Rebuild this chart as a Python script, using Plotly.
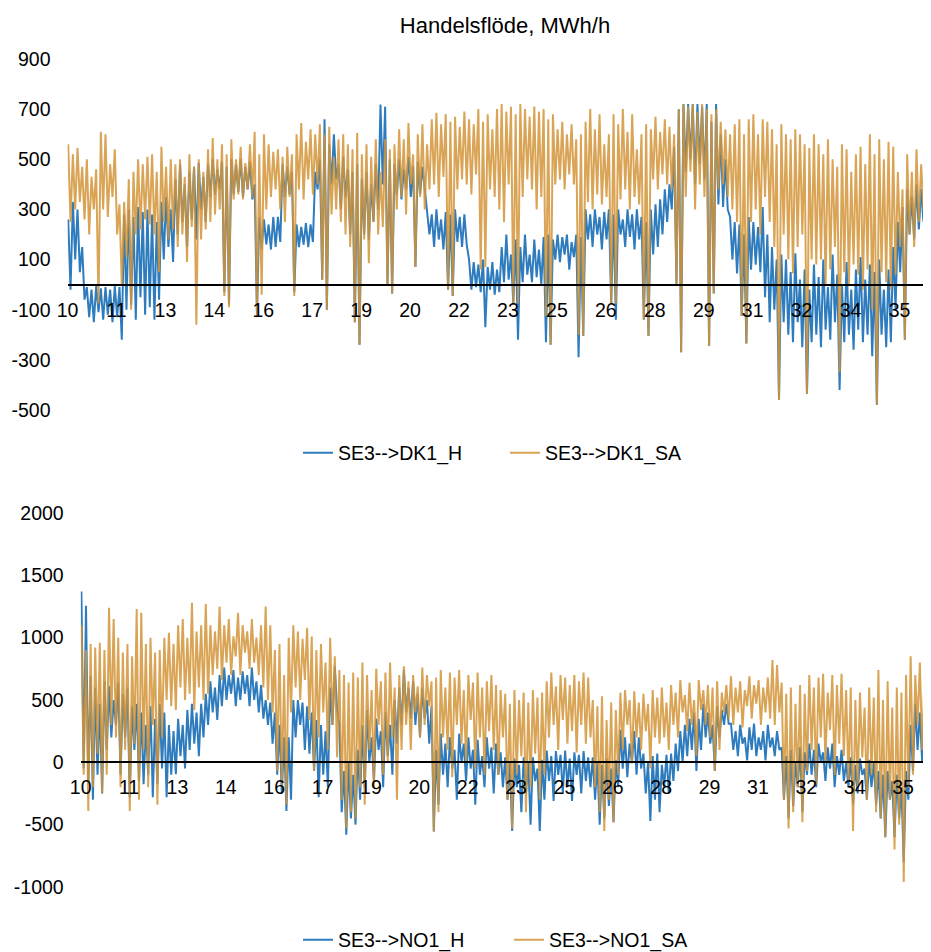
import plotly.graph_objects as go

# ---------------- data (daily high / low, MWh/h) ----------------
WEEK_LABELS = ['10', '11', '13', '14', '16', '17', '19', '20', '22', '23',
               '25', '26', '28', '29', '31', '32', '34', '35']
LABEL_STEP_DAYS = 10.5

TOP_TICKS = [-500, -300, -100, 100, 300, 500, 700, 900]
BOTTOM_TICKS = [-1000, -500, 0, 500, 1000, 1500, 2000]

DK1_SA_HIGH = [
    560, 520, 545, 470, 500, 430, 460, 610, 600, 480,
    540, 320, 330, 420, 450, 500, 480, 510, 520, 450,
    550, 470, 500, 480, 500, 430, 520, 470, 500, 450,
    540, 585, 500, 560, 520, 580, 500, 550, 485, 560,
    610, 520, 600, 560, 530, 540, 510, 550, 520, 600,
    645, 570, 620, 600, 640, 600, 630, 510, 580, 600,
    560, 540, 605, 520, 560, 510, 580, 450, 580, 540,
    560, 620, 580, 645, 520, 600, 640, 560, 660, 685,
    640, 680, 650, 670, 630, 690, 660, 640, 700, 650,
    680, 620, 700, 720, 690, 710, 680, 720, 700, 670,
    710, 690, 700, 660, 680, 620, 650, 600, 640, 580,
    600, 650, 700, 620, 680, 560, 600, 680, 640, 700,
    610, 680, 540, 600, 640, 620, 670, 610, 660, 630,
    600, 700, 720, 710, 720, 690, 720, 700, 680, 700,
    650, 620, 600, 640, 660, 600, 660, 680, 600, 660,
    650, 620, 560, 640, 600, 580, 620, 600, 560, 545,
    600, 560, 520, 580, 500, 470, 560, 540, 450, 520,
    550, 480, 600, 520, 580, 500, 570, 550, 450, 380,
    520, 450, 540, 480, 500, 540, 500]
DK1_SA_LOW = [
    250, 300, 330, 260, 200, 300, -75, 300, 270, 350,
    200, -5, 110, -100, 200, 220, 260, 240, 200, 50,
    250, 180, 220, 150, 200, 90, 230, -160, 180, 220,
    250, 280, 300, -45, -90, 340, 360, 340, 380, 350,
    -130, -40, 300, 350, 380, 300, 250, 350, -45, 380,
    340, 420, 360, 400, 20, -100, 280, 300, 250, 200,
    150, -150, -240, 180, 85, 250, 200, 230, 0, -35,
    300, 350, 280, 400, 70, 350, 300, 380, 400, 350,
    430, -20, -45, 380, 420, 400, 360, 440, 60, 70,
    380, 350, 300, 250, 400, -75, -75, 350, 420, 380,
    300, 350, -125, -240, 400, 420, 380, 440, 400, -200,
    -205, 330, 300, 360, 320, 350, -75, -75, 340, 380,
    300, 350, 320, -140, -205, 420, 380, 440, 400, 380,
    0, -270, 350, 450, 300, 400, 350, -245, -35, 380,
    400, 350, 300, 250, -125, -235, 250, 300, 200, 350,
    250, 150, -460, 200, 100, 45, 150, 200, -435, 100,
    80, 100, -5, 60, 150, -350, 50, 0, 80, 40,
    -20, 60, -100, -480, 50, 10, -20, 40, 150, -220,
    200, 150, 250, 300, 200, 280, 250]

DK1_H_HIGH = [
    260, 330, 300, 150, -10, -20, -5, -15, -10, -20,
    -5, -10, 280, 300, 270, 310, 290, 300, 280, 250,
    330, 350, 300, 420, 480, 400, 450, 470, 485, 430,
    480, 500, 460, 490, 470, 500, 480, 500, 470, 490,
    400, 270, 260, 240, 270, 270, 480, 470, 450, 240,
    230, 245, 240, 450, 500, 660, 560, 600, 480, 510,
    460, 450, 480, 420, 450, 400, 480, 718, 710, 500,
    480, 500, 460, 510, 470, 490, 470, 300, 280, 300,
    260, 290, 280, 300, 270, 280, 100, 90, 80, 100,
    70, 90, 60, 150, 200, 120, 180, 150, 200, 120,
    180, 140, 190, 200, 180, 200, 190, 200, 170, 200,
    190, 300, 280, 300, 270, 290, 300, 280, 300, 260,
    300, 280, 300, 270, 250, 300, 320, 340, 380, 400,
    550, 700, 720, 720, 720, 720, 710, 720, 650, 720,
    600, 500, 270, 250, 240, 200, 270, 250, 230, 310,
    200, 150, 100, 120, 100, 50, 125, 20, 60, -20,
    80, 30, 100, -10, 120, 40, 0, 90, -20, 60,
    110, 20, 80, 50, 100, -20, 60, 150, 250, 310,
    380, 350, 400, 380, 350, 400, 380]
DK1_H_LOW = [
    -20, 100, 50, -60, -130, -150, -110, -140, -120, -150,
    -130, -220, -100, -80, -140, -50, -120, -90, -140, -60,
    100, 150, 90, 200, 250, 150, 260, 180, 300, 250,
    350, 360, 380, -30, -80, 360, 370, 350, 380, 340,
    -120, 140, 160, 140, 150, 170, 350, 360, -30, 150,
    160, 150, 170, 380, 20, -100, 400, 420, 300, 350,
    200, -150, -240, 200, 180, 250, 300, 400, 0, -35,
    360, 340, 380, 350, 70, 360, 380, 200, 150, 180,
    140, -20, -45, 170, 150, 160, -20, -10, -30, -170,
    -20, -40, -30, 10, 20, -75, -220, 10, 40, 10,
    30, 0, -230, -240, 100, 90, 120, 60, 110, -290,
    -205, 180, 150, 200, 140, 180, -75, -140, 200, 150,
    190, 140, 180, -140, -205, 120, 150, 200, 250, 300,
    0, -270, 450, 500, 400, 480, 420, -245, -35, 320,
    310, 300, 100, 45, -125, -235, 60, 80, 50, -50,
    -150, -100, -460, -150, -200, -230, -150, -250, -435, -230,
    -200, -250, -180, -220, -150, -420, -230, -200, -260, -180,
    -230, -200, -285, -480, -200, -250, -230, -100, 50, -220,
    200, 180, 220, 250, 200, 260, 240]

NO1_SA_HIGH = [
    1100, 900, 950, 920, 960, 900, 1240, 1150, 1000, 880,
    950, 850, 1230, 1200, 950, 1000, 880, 900, 1000, 1040,
    950, 1100, 1150, 1000, 1280, 1050, 1100, 1270, 1100, 1050,
    1250, 1100, 1150, 1010, 1200, 1100, 1050, 1150, 1000, 1100,
    1250, 1100, 900, 950, 700, 1000, 1100, 1050, 990, 1080,
    1010, 900, 950, 800, 1000, 850, 740, 700, 640, 720,
    680, 800, 700, 580, 750, 650, 720, 800, 600, 700,
    770, 650, 700, 610, 760, 700, 650, 680, 740, 600,
    720, 680, 740, 580, 700, 640, 720, 600, 650, 700,
    620, 580, 550, 470, 580, 500, 560, 480, 580, 520,
    560, 650, 720, 610, 700, 680, 620, 700, 650, 720,
    680, 500, 450, 530, 340, 480, 420, 560, 580, 500,
    570, 480, 550, 470, 580, 520, 600, 480, 620, 560,
    660, 540, 640, 500, 660, 580, 620, 600, 650, 560,
    620, 690, 600, 650, 580, 690, 620, 660, 600, 680,
    820, 780, 640, 550, 600, 470, 620, 550, 700, 600,
    680, 710, 560, 700, 620, 710, 580, 600, 500, 560,
    440, 600, 520, 740, 500, 650, 440, 600, 560, 700,
    850, 700, 800, 690, 780, 720, 760]
NO1_SA_LOW = [
    -100, -390, -200, 70, -250, -100, 300, 200, -200, 100,
    -390, 150, -300, 100, -200, 300, -340, 200, 500, 450,
    420, 600, 500, 550, 420, 600, 500, 550, 700, 750,
    660, 800, 700, 850, 700, 880, 750, 800, 700, 600,
    500, 400, -70, -200, -340, 400, 600, 500, 660, 340,
    -70, 200, 400, 100, 300, 40, -300, -530, -400, -450,
    -200, -340, 100, -200, 300, -100, 0, 200, -300, 100,
    300, 100, 400, 200, 300, 450, -555, -400, 200, 100,
    -120, 300, 150, 0, 340, -50, 200, -100, 250, 100,
    -100, 200, -300, -530, -100, 50, -400, -200, 70, -300,
    -100, 200, 300, 100, 340, 150, 250, 80, 300, 150,
    200, -200, -400, -550, -300, -480, -100, 100, 300, -10,
    200, 100, 250, -50, 200, 150, 200, 100, 300, 200,
    400, 250, 300, 50, 420, 300, 200, -70, 100, 400,
    350, 300, 400, 280, 450, 350, 470, 300, 400, 350,
    300, 400, -300, -530, -400, -200, -480, -70, 100, -175,
    200, 0, 260, -100, 150, 50, -150, -550, -200, 40,
    -300, -100, -400, -450, -600, -300, -700, -500, -960, -200,
    -100, 300, 100, 420, -150, 200, 300]

NO1_H_HIGH = [
    1370, 1255, 690, 600, 470, 650, 610, 500, 640, 550,
    600, 450, 470, 400, 300, 450, 350, 470, 400, 300,
    250, 350, 300, 420, 470, 400, 470, 550, 650, 600,
    700, 760, 700, 740, 680, 730, 700, 760, 650, 620,
    500, 480, 400, 300, 200, 200, 500, 500, 480, 450,
    400, 340, 300, 250, 600, 770, 300, -70, 0, -100,
    100, 300, 420, 200, 350, 250, 400, 300, 500, 600,
    740, 600, 650, 550, 600, 500, 450, 100, 230, 150,
    200, 100, 230, 150, 200, 100, 180, 50, 200, 120,
    150, 80, 40, 0, 30, -20, 40, 0, 40, -50,
    20, 95, 50, 90, 60, 95, 30, 80, 60, 90,
    40, 40, 0, -20, 30, -50, 20, 260, 200, 150,
    250, 200, 70, 0, 50, 70, -20, 60, 70, 150,
    250, 300, 350, 400, 350, 470, 400, 300, 450, 420,
    470, 310, 250, 300, 200, 280, 310, 200, 250, 300,
    200, 250, 120, 50, 100, 0, 120, 80, 150, 100,
    150, 80, 120, 150, 50, 100, 0, 40, -20, 30,
    -50, 20, 0, -70, -100, -70, -150, -100, -200, -70,
    300, 470, 400, 450, 350, 420, 380]
NO1_H_LOW = [
    -50, -150, -300, -100, -250, 100, 200, 300, -100, 200,
    -280, 100, -150, -175, -100, -280, -175, -50, -280, -100,
    -95, 50, -50, 100, 150, 50, 200, 300, 400, 340,
    450, 500, 550, 450, 500, 550, 450, 500, 400, 350,
    300, 150, -100, -250, -390, -300, 200, 300, 100, 70,
    -70, -280, -100, -200, 300, 420, -400, -580, -450, -500,
    -300, -200, 0, -150, 100, -200, 50, -100, 150, 300,
    400, 350, 300, 200, 350, 150, -555, -340, -100, -200,
    -50, -300, 0, -150, -50, -340, -100, -200, -50, -250,
    -100, -200, -300, -550, -200, -400, -250, -500, -150, -550,
    -300, -150, -310, -100, -250, -200, -310, -100, -250, -150,
    -200, -300, -500, -450, -350, -480, -200, -50, -120, 0,
    -100, -50, -250, -470, -300, -400, -200, -250, -150, -70,
    0, 50, 100, -70, 100, 200, 150, -70, 200, 300,
    310, 100, 50, 150, 15, 100, 50, 100, 15, 120,
    50, 100, -300, -450, -350, -200, -400, -100, -100, -200,
    0, -150, -50, -200, -100, -150, -200, -340, -250, -100,
    -300, -200, -340, -450, -600, -300, -600, -450, -800, -300,
    -70, 100, 0, 200, -70, 100, 150]

# ---------------- helpers ----------------
# the page body adds an 8 px margin at top/left; reference pixel positions are
# converted to figure fractions with that offset
OFF = 8
W, H = 931 - OFF, 952 - OFF
BLUE = '#2E7CBE'
ORANGE = 'rgba(210,148,55,0.85)'
FONT = 'Liberation Sans, Arial, sans-serif'
FS = 19.5


def px_x(x):
    return (x - OFF) / W


def px_y(y):
    return 1 - (y - OFF) / H


def daily_path(hi, lo):
    n = min(len(hi), len(lo))
    xs, ys = [], []
    for d in range(n):
        xs += [d + 0.15, d + 0.65]
        ys += [hi[d], lo[d]]
    return xs, ys


label_pos = [i * LABEL_STEP_DAYS for i in range(len(WEEK_LABELS))]

TOP_X0, TOP_PPD = 67.5, 4.661
BOT_X0, BOT_PPD = 80.7, 4.607
RIGHT_EDGE = OFF + W

fig = go.Figure()
for (hi, lo, name, color, xa, ya, lg) in [
    (DK1_H_HIGH, DK1_H_LOW, 'SE3-->DK1_H', BLUE, 'x', 'y', 'legend'),
    (DK1_SA_HIGH, DK1_SA_LOW, 'SE3-->DK1_SA', ORANGE, 'x', 'y', 'legend'),
    (NO1_H_HIGH, NO1_H_LOW, 'SE3-->NO1_H', BLUE, 'x2', 'y2', 'legend2'),
    (NO1_SA_HIGH, NO1_SA_LOW, 'SE3-->NO1_SA', ORANGE, 'x2', 'y2', 'legend2'),
]:
    xs, ys = daily_path(hi, lo)
    fig.add_trace(go.Scatter(x=xs, y=ys, mode='lines', name=name,
                             line=dict(color=color, width=2),
                             xaxis=xa, yaxis=ya, legend=lg,
                             hoverinfo='skip'))

tick_font = dict(size=FS, color='black', family=FONT)
common_x = dict(anchor='free', showline=True, linecolor='black', linewidth=1.5,
                showgrid=False, zeroline=False, ticks='',
                tickvals=label_pos, ticktext=WEEK_LABELS,
                tickfont=tick_font, ticklabelstandoff=8, automargin=False)
common_y = dict(showgrid=False, zeroline=False, showline=False, ticks='',
                tickfont=tick_font, ticklabelstandoff=16, automargin=False)
legend_common = dict(orientation='h', xanchor='left', yanchor='middle',
                     entrywidthmode='pixels',
                     font=dict(size=FS, family=FONT, color='black'),
                     bgcolor='rgba(0,0,0,0)')

fig.update_layout(
    width=W, height=H,
    margin=dict(l=0, r=0, t=0, b=0, autoexpand=False),
    paper_bgcolor='white', plot_bgcolor='white',
    font=dict(family=FONT, size=FS, color='black'),
    title=dict(text='Handelsflöde, MWh/h', x=px_x(505), xanchor='center',
               y=px_y(25), yanchor='middle',
               font=dict(size=22, family=FONT, color='black')),
    xaxis=dict(domain=[px_x(TOP_X0), 1],
               range=[0, (RIGHT_EDGE - TOP_X0) / TOP_PPD],
               position=px_y(285), **common_x),
    yaxis=dict(domain=[px_y(410), px_y(59)], range=[-500, 900],
               tickvals=TOP_TICKS, ticktext=[str(v) for v in TOP_TICKS],
               anchor='x', **common_y),
    xaxis2=dict(domain=[px_x(BOT_X0), 1],
                range=[0, (RIGHT_EDGE - BOT_X0) / BOT_PPD],
                position=px_y(762), **common_x),
    yaxis2=dict(domain=[px_y(887), px_y(513)], range=[-1000, 2000],
                tickvals=BOTTOM_TICKS, ticktext=[str(v) for v in BOTTOM_TICKS],
                anchor='x2', **common_y),
    legend=dict(x=px_x(298), y=px_y(453), entrywidth=162, **legend_common),
    legend2=dict(x=px_x(298), y=px_y(940), entrywidth=166, **legend_common),
    showlegend=True,
)

fig.write_html('out.html')
